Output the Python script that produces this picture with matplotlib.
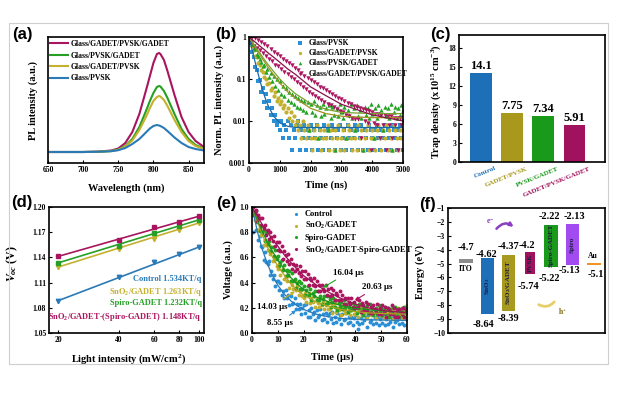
import matplotlib
matplotlib.use("Agg")
import matplotlib.pyplot as plt
import numpy as np
from matplotlib.patches import Rectangle, FancyArrowPatch
from matplotlib.ticker import NullLocator

# ---------------- data ----------------
# (a) steady-state PL
pl_wl = [650, 700, 720, 740, 750, 760, 770, 780, 790, 795, 800, 805, 808, 810, 815, 820, 830, 840, 850, 860, 872]
pl_gpg = [0, 0, 0.3, 1.5, 3.5, 9, 20, 38, 63, 76, 89, 98, 99, 98, 92, 81, 57, 35, 20, 11, 5]
pl_pg = [0, 0, 0.2, 1.0, 2.5, 6, 13, 25, 42, 51, 59, 65, 66, 65.5, 61, 54, 38, 23, 13, 7, 3.5]
pl_gp = [0, 0, 0.2, 0.9, 2.2, 5.5, 11.5, 22, 36, 44, 51, 55, 56, 55.5, 52, 46, 32, 20, 11, 6, 3]
pl_p = [0, 0, 0.2, 0.8, 1.8, 4, 8, 13, 20, 23.5, 26, 27, 26.5, 26, 24, 21, 14.5, 9, 5, 3, 1.5]

# (b) TRPL, sampled every 50 ns
trpl_t = np.arange(0, 5001, 50)
trpl_p = [1.0, 0.72, 0.45, 0.33, 0.19, 0.16, 0.09, 0.095, 0.05, 0.06,
          0.028, 0.045, 0.02, 0.03, 0.014, 0.02, 0.01, 0.014, 0.008, 0.01,
          0.006, 0.01, 0.004, 0.008, 0.006, 0.01, 0.004, 0.008, 0.002, 0.006,
          0.004, 0.008, 0.01, 0.002, 0.006, 0.004, 0.008, 0.002, 0.006, 0.004,
          0.008, 0.002, 0.006, 0.004, 0.008, 0.002, 0.006, 0.004, 0.002, 0.008,
          0.004, 0.006, 0.002, 0.004, 0.008, 0.006, 0.002, 0.004, 0.006, 0.008,
          0.002, 0.004, 0.006, 0.002, 0.008, 0.004, 0.006, 0.002, 0.004, 0.008,
          0.006, 0.002, 0.004, 0.008, 0.002, 0.006, 0.004, 0.002, 0.008, 0.006,
          0.004, 0.002, 0.006, 0.008, 0.004, 0.002, 0.006, 0.004, 0.008, 0.002,
          0.006, 0.004, 0.002, 0.008, 0.006, 0.004, 0.002, 0.006, 0.008, 0.004,
          0.002]
trpl_gp = [1.0, 0.8, 0.6, 0.5, 0.36, 0.33, 0.24, 0.22, 0.16, 0.15,
           0.11, 0.1, 0.075, 0.08, 0.055, 0.06, 0.04, 0.048, 0.03, 0.036,
           0.025, 0.03, 0.02, 0.024, 0.016, 0.02, 0.012, 0.016, 0.01, 0.013,
           0.008, 0.01, 0.006, 0.008, 0.004, 0.01, 0.006, 0.004, 0.008, 0.006,
           0.004, 0.002, 0.006, 0.004, 0.008, 0.004, 0.006, 0.002, 0.004, 0.006,
           0.004, 0.008, 0.002, 0.006, 0.004, 0.002, 0.006, 0.004, 0.008, 0.002,
           0.004, 0.006, 0.002, 0.004, 0.008, 0.006, 0.004, 0.002, 0.006, 0.004,
           0.002, 0.008, 0.004, 0.006, 0.002, 0.004, 0.006, 0.008, 0.002, 0.004,
           0.006, 0.004, 0.002, 0.006, 0.008, 0.004, 0.002, 0.006, 0.004, 0.008,
           0.002, 0.006, 0.004, 0.002, 0.008, 0.006, 0.004, 0.002, 0.006, 0.004,
           0.006]
trpl_pg = [1.0, 0.85, 0.7, 0.55, 0.52, 0.4, 0.36, 0.3, 0.26, 0.2,
           0.22, 0.15, 0.17, 0.11, 0.14, 0.09, 0.12, 0.07, 0.1, 0.055,
           0.09, 0.045, 0.07, 0.04, 0.06, 0.032, 0.05, 0.028, 0.045, 0.025,
           0.04, 0.022, 0.035, 0.02, 0.032, 0.018, 0.03, 0.016, 0.028, 0.006,
           0.026, 0.016, 0.03, 0.014, 0.024, 0.004, 0.022, 0.013, 0.026, 0.015,
           0.02, 0.006, 0.024, 0.012, 0.022, 0.014, 0.002, 0.02, 0.013, 0.025,
           0.016, 0.012, 0.022, 0.004, 0.018, 0.014, 0.026, 0.012, 0.02, 0.006,
           0.024, 0.013, 0.018, 0.012, 0.002, 0.022, 0.014, 0.02, 0.012, 0.025,
           0.015, 0.004, 0.02, 0.012, 0.024, 0.014, 0.018, 0.006, 0.022, 0.013,
           0.02, 0.012, 0.025, 0.002, 0.016, 0.022, 0.012, 0.02, 0.014, 0.024,
           0.018]
trpl_gpg = [1.0, 0.75, 1.0, 0.62, 0.95, 0.55, 0.85, 0.48, 0.75, 0.42,
            0.68, 0.36, 0.6, 0.3, 0.52, 0.27, 0.45, 0.22, 0.4, 0.2,
            0.35, 0.17, 0.3, 0.15, 0.27, 0.13, 0.24, 0.11, 0.21, 0.1,
            0.18, 0.085, 0.16, 0.075, 0.14, 0.065, 0.12, 0.057, 0.105, 0.05,
            0.095, 0.045, 0.085, 0.04, 0.075, 0.036, 0.066, 0.032, 0.06, 0.029,
            0.054, 0.026, 0.048, 0.024, 0.044, 0.021, 0.04, 0.019, 0.036, 0.017,
            0.033, 0.016, 0.03, 0.014, 0.027, 0.013, 0.025, 0.012, 0.023, 0.011,
            0.021, 0.011, 0.02, 0.004, 0.019, 0.01, 0.018, 0.009, 0.017, 0.002,
            0.016, 0.009, 0.015, 0.008, 0.015, 0.004, 0.014, 0.008, 0.014, 0.002,
            0.013, 0.008, 0.013, 0.004, 0.012, 0.008, 0.012, 0.002, 0.012, 0.008,
            0.01]
fit_t = [0, 100, 200, 300, 400, 500, 600, 800, 1000, 1250, 1500, 2000, 2500, 3000, 4000, 5000]
fit_p = [1.0, 0.5, 0.25, 0.13, 0.07, 0.04, 0.025, 0.013, 0.009, 0.0075, 0.007, 0.007, 0.007, 0.007, 0.007, 0.007]
fit_gp = [1.0, 0.75, 0.57, 0.43, 0.33, 0.26, 0.2, 0.125, 0.08, 0.05, 0.035, 0.02, 0.015, 0.013, 0.012, 0.012]
fit_pg = [1.0, 0.78, 0.6, 0.47, 0.37, 0.29, 0.23, 0.15, 0.1, 0.065, 0.045, 0.026, 0.019, 0.016, 0.015, 0.015]
fit_gpg = [1.0, 0.87, 0.76, 0.66, 0.57, 0.5, 0.43, 0.33, 0.25, 0.175, 0.13, 0.065, 0.04, 0.025, 0.014, 0.01]

# (c) trap density
trap_names = ["Control", "GADET/PVSK", "PVSK/GADET", "GADET/PVSK/GADET"]
trap_vals = [14.1, 7.75, 7.34, 5.91]

# (d) Voc vs light intensity
light = [20, 40, 60, 80, 100]
voc_ctrl = [1.088, 1.117, 1.135, 1.1437, 1.152]
voc_sno2 = [1.129, 1.150, 1.1617, 1.173, 1.1808]
voc_spiro = [1.1338, 1.1537, 1.1689, 1.177, 1.1848]
voc_both = [1.1418, 1.1605, 1.176, 1.182, 1.1888]
fit_light = [20, 100]
vfit_ctrl = [1.0885, 1.1523]
vfit_sno2 = [1.1285, 1.181]
vfit_spiro = [1.1335, 1.1847]
vfit_both = [1.1412, 1.189]
ideality = [1.534, 1.263, 1.232, 1.148]
voc_names = ["Control", "SnO$_2$/GADET", "Spiro-GADET", "SnO$_2$/GADET-(Spiro-GADET)"]

# (e) transient photovoltage, sampled every 0.5 us
tpv_t = np.arange(0, 60.01, 0.5)
tpv_ctrl = [0.97, 0.80, 0.95, 0.82, 0.82, 0.74, 0.77, 0.69, 0.68, 0.58,
            0.64, 0.56, 0.55, 0.57, 0.46, 0.49, 0.43, 0.46, 0.37, 0.41,
            0.41, 0.34, 0.40, 0.30, 0.33, 0.28, 0.34, 0.28, 0.30, 0.22,
            0.29, 0.23, 0.24, 0.28, 0.19, 0.23, 0.19, 0.23, 0.15, 0.20,
            0.22, 0.16, 0.23, 0.13, 0.18, 0.13, 0.20, 0.15, 0.17, 0.10,
            0.18, 0.13, 0.14, 0.19, 0.10, 0.15, 0.11, 0.16, 0.09, 0.14,
            0.16, 0.11, 0.17, 0.08, 0.13, 0.09, 0.16, 0.11, 0.14, 0.07,
            0.15, 0.10, 0.11, 0.16, 0.08, 0.13, 0.09, 0.13, 0.06, 0.12,
            0.14, 0.09, 0.03, 0.07, 0.12, 0.08, 0.15, 0.10, 0.13, 0.05,
            0.14, 0.09, 0.10, 0.15, 0.07, 0.12, 0.08, 0.13, 0.06, 0.11,
            0.13, 0.08, 0.15, 0.06, 0.11, 0.07, 0.14, 0.09, 0.12, 0.05,
            0.14, 0.09, 0.10, 0.15, 0.07, 0.12, 0.08, 0.13, 0.06, 0.11,
            0.13]
tpv_sno2 = [0.98, 1.0, 0.90, 0.92, 0.92, 0.82, 0.83, 0.78, 0.80, 0.70,
            0.74, 0.70, 0.66, 0.70, 0.63, 0.64, 0.57, 0.58, 0.60, 0.53,
            0.51, 0.55, 0.46, 0.50, 0.51, 0.43, 0.45, 0.41, 0.45, 0.36,
            0.41, 0.38, 0.35, 0.41, 0.34, 0.37, 0.30, 0.33, 0.34, 0.29,
            0.28, 0.32, 0.25, 0.30, 0.32, 0.24, 0.28, 0.25, 0.29, 0.21,
            0.27, 0.24, 0.21, 0.28, 0.22, 0.25, 0.19, 0.22, 0.25, 0.19,
            0.19, 0.24, 0.16, 0.22, 0.24, 0.17, 0.20, 0.18, 0.23, 0.14,
            0.21, 0.18, 0.16, 0.23, 0.17, 0.20, 0.14, 0.18, 0.20, 0.15,
            0.15, 0.20, 0.13, 0.18, 0.21, 0.14, 0.18, 0.15, 0.20, 0.12,
            0.18, 0.16, 0.14, 0.21, 0.15, 0.18, 0.12, 0.16, 0.19, 0.14,
            0.14, 0.19, 0.12, 0.17, 0.20, 0.13, 0.17, 0.14, 0.19, 0.11,
            0.17, 0.15, 0.13, 0.20, 0.14, 0.18, 0.12, 0.16, 0.18, 0.13,
            0.22]
tpv_spiro = [1.0, 0.94, 0.96, 0.97, 0.88, 0.91, 0.81, 0.85, 0.80, 0.82,
             0.73, 0.79, 0.71, 0.73, 0.65, 0.68, 0.68, 0.61, 0.66, 0.59,
             0.61, 0.53, 0.56, 0.58, 0.50, 0.54, 0.45, 0.50, 0.46, 0.49,
             0.41, 0.48, 0.41, 0.43, 0.36, 0.40, 0.41, 0.35, 0.40, 0.35,
             0.37, 0.30, 0.34, 0.37, 0.30, 0.35, 0.26, 0.32, 0.29, 0.33,
             0.26, 0.33, 0.26, 0.29, 0.23, 0.27, 0.29, 0.23, 0.29, 0.24,
             0.27, 0.21, 0.25, 0.28, 0.21, 0.26, 0.18, 0.24, 0.21, 0.25,
             0.19, 0.26, 0.20, 0.23, 0.17, 0.21, 0.23, 0.18, 0.24, 0.19,
             0.22, 0.16, 0.20, 0.23, 0.17, 0.22, 0.14, 0.20, 0.18, 0.22,
             0.16, 0.23, 0.17, 0.20, 0.14, 0.18, 0.20, 0.15, 0.22, 0.17,
             0.20, 0.14, 0.18, 0.21, 0.15, 0.20, 0.13, 0.19, 0.16, 0.21,
             0.14, 0.21, 0.15, 0.19, 0.13, 0.17, 0.20, 0.14, 0.21, 0.16,
             0.19]
tpv_both = [0.97, 1.0, 0.96, 0.98, 0.89, 0.94, 0.91, 0.86, 0.91, 0.83,
            0.86, 0.78, 0.82, 0.75, 0.80, 0.76, 0.73, 0.77, 0.69, 0.72,
            0.66, 0.72, 0.65, 0.69, 0.59, 0.65, 0.62, 0.57, 0.63, 0.55,
            0.59, 0.51, 0.55, 0.49, 0.54, 0.51, 0.48, 0.53, 0.45, 0.49,
            0.43, 0.49, 0.43, 0.47, 0.38, 0.44, 0.42, 0.38, 0.44, 0.37,
            0.41, 0.33, 0.38, 0.33, 0.38, 0.35, 0.33, 0.38, 0.30, 0.35,
            0.29, 0.36, 0.30, 0.34, 0.26, 0.32, 0.30, 0.26, 0.33, 0.26,
            0.30, 0.23, 0.28, 0.22, 0.28, 0.25, 0.23, 0.28, 0.21, 0.25,
            0.20, 0.27, 0.21, 0.26, 0.17, 0.24, 0.22, 0.18, 0.25, 0.18,
            0.23, 0.16, 0.21, 0.16, 0.22, 0.19, 0.17, 0.23, 0.15, 0.20,
            0.15, 0.22, 0.17, 0.21, 0.13, 0.20, 0.18, 0.15, 0.22, 0.15,
            0.20, 0.13, 0.18, 0.13, 0.19, 0.17, 0.15, 0.20, 0.13, 0.18,
            0.16]
tfit_t = [0, 2, 4, 6, 8, 10, 12.5, 15, 17.5, 20, 25, 30, 35, 40, 45, 50, 55, 60]
tfit_ctrl = [1.0, 0.812, 0.663, 0.546, 0.453, 0.379, 0.309, 0.256, 0.216, 0.187, 0.148, 0.127, 0.115, 0.108, 0.105, 0.103, 0.101, 0.1]
tfit_sno2 = [1.0, 0.89, 0.78, 0.68, 0.6, 0.53, 0.46, 0.39, 0.34, 0.30, 0.245, 0.21, 0.185, 0.17, 0.16, 0.155, 0.152, 0.15]
tfit_spiro = [1.0, 0.9, 0.805, 0.72, 0.645, 0.58, 0.505, 0.44, 0.39, 0.345, 0.285, 0.245, 0.215, 0.195, 0.185, 0.175, 0.17, 0.165]
tfit_both = [1.0, 0.93, 0.86, 0.8, 0.74, 0.69, 0.62, 0.56, 0.505, 0.455, 0.38, 0.32, 0.27, 0.23, 0.2, 0.18, 0.17, 0.16]
tau = [8.55, 14.03, 16.04, 20.63]
tpv_names = ["Control", "SnO$_2$/GADET", "Spiro-GADET", "SnO$_2$/GADET-Spiro-GADET"]

# (f) energy levels (eV)
ito_wf = -4.7
au_wf = -5.1
layer_names = ["SnO$_2$", "SnO$_2$/GADET", "PVSK", "Spiro-GADET", "Spiro"]
layer_cb = [-4.62, -4.37, -4.2, -2.22, -2.13]
layer_vb = [-8.64, -8.39, -5.74, -5.22, -5.13]

# ---------------- style ----------------
plt.rcParams.update({
    "font.family": "Liberation Serif",
    "font.weight": "bold",
    "axes.labelweight": "bold",
    "mathtext.fontset": "custom",
    "mathtext.rm": "Liberation Serif:bold",
    "mathtext.it": "Liberation Serif:bold:italic",
    "mathtext.bf": "Liberation Serif:bold",
    "axes.linewidth": 1.2,
    "xtick.direction": "in",
    "ytick.direction": "in",
    "xtick.major.size": 2,
    "ytick.major.size": 2,
    "xtick.major.width": 0.8,
    "ytick.major.width": 0.8,
    "xtick.labelsize": 5.5,
    "ytick.labelsize": 5.5,
    "xtick.major.pad": 2,
    "ytick.major.pad": 2,
    "axes.labelsize": 7.5,
})

BLUE, OLIVE, GREEN, MAG = "#2b8fd6", "#c2b030", "#22a322", "#ad1560"
L_BLUE, L_OLIVE, L_GREEN, L_MAG = "#2a7ab8", "#c4b12e", "#25a025", "#a8155e"
B_BLUE, B_OLIVE, B_GREEN, B_MAG = "#1d6fb8", "#a8991c", "#1a9a1a", "#a0125d"

W, H = 618, 394
fig = plt.figure(figsize=(W / 100, H / 100), dpi=100)


def box(l, t, r, b):
    return [l / W, 1 - b / H, (r - l) / W, (b - t) / H]


def panel(x, y, s):
    fig.text(x / W, 1 - y / H, s, family="Liberation Sans", weight="bold",
             fontsize=12, ha="center", va="center")


fig.add_artist(Rectangle((9 / W, 1 - 364 / H), 599 / W, 341 / H, transform=fig.transFigure,
                         fill=False, edgecolor="#cfcfcf", lw=0.8))

# ---------------- (a) ----------------
axA = fig.add_axes(box(48, 37, 204, 163))
axA.plot(pl_wl, pl_gpg, color=L_MAG, lw=1.5, label="Glass/GADET/PVSK/GADET")
axA.plot(pl_wl, pl_pg, color=L_GREEN, lw=1.5, label="Glass/PVSK/GADET")
axA.plot(pl_wl, pl_gp, color=L_OLIVE, lw=1.5, label="Glass/GADET/PVSK")
axA.plot(pl_wl, pl_p, color=L_BLUE, lw=1.5, label="Glass/PVSK")
axA.set_xlim(650, 872)
axA.set_ylim(-11, 115)
axA.set_xticks([650, 700, 750, 800, 850])
axA.set_yticks([])
axA.set_xlabel("Wavelength (nm)")
axA.set_ylabel("PL intensity (a.u.)")
axA.xaxis.set_label_coords(0.5, -0.16)
axA.yaxis.set_label_coords(-0.064, 0.5)
axA.legend(loc="upper left", bbox_to_anchor=(0.01, 0.975), frameon=False, fontsize=5.5,
           handlelength=2.4, handletextpad=0.35, labelspacing=0.45, borderpad=0, borderaxespad=0)
panel(22, 35, "(a)")

# ---------------- (b) ----------------
axB = fig.add_axes(box(249, 37, 403, 163))
axB.scatter(trpl_t, trpl_p, s=9, marker="s", color=BLUE, lw=0, label="Glass/PVSK")
axB.scatter(trpl_t, trpl_gp, s=9, marker="o", color=OLIVE, lw=0, label="Glass/GADET/PVSK")
axB.scatter(trpl_t, trpl_pg, s=10, marker="^", color=GREEN, lw=0, label="Glass/PVSK/GADET")
axB.scatter(trpl_t, trpl_gpg, s=10, marker="v", color=MAG, lw=0, label="Glass/GADET/PVSK/GADET")
axB.plot(fit_t, fit_p, color="#1a6aa8", lw=0.9)
axB.plot(fit_t, fit_gp, color="#a09020", lw=0.9)
axB.plot(fit_t, fit_pg, color="#7aa030", lw=0.9)
axB.plot(fit_t, fit_gpg, color="#8a1050", lw=0.9)
axB.set_yscale("log")
axB.set_ylim(0.001, 1)
axB.set_xlim(0, 5000)
axB.set_yticks([0.001, 0.01, 0.1, 1])
axB.set_yticklabels(["0.001", "0.01", "0.1", "1"])
axB.yaxis.set_minor_locator(NullLocator())
axB.set_xticks([0, 1000, 2000, 3000, 4000, 5000])
axB.set_xlabel("Time (ns)")
axB.set_ylabel("Norm. PL intensity (a.u.)")
axB.xaxis.set_label_coords(0.5, -0.135)
axB.yaxis.set_label_coords(-0.162, 0.5)
axB.legend(loc="upper left", bbox_to_anchor=(0.3, 0.985), frameon=False, fontsize=5.5,
           handlelength=1.2, handletextpad=0.6, labelspacing=0.3, borderpad=0, borderaxespad=0,
           scatterpoints=1, markerscale=0.8)
panel(226, 35, "(b)")

# ---------------- (c) ----------------
axC = fig.add_axes(box(459, 35, 605, 162))
bar_cols = [B_BLUE, B_OLIVE, B_GREEN, B_MAG]
axC.bar(range(len(trap_vals)), trap_vals, width=0.7, color=bar_cols)
for i, v in enumerate(trap_vals):
    axC.text(i, v + 0.15, str(v), ha="center", va="bottom", fontsize=9)
axC.set_xlim(-0.71, 3.98)
axC.set_ylim(0, 20.1)
axC.set_yticks([0, 3, 6, 9, 12, 15, 18])
axC.set_xticks([])
for i, (n, c) in enumerate(zip(trap_names, bar_cols)):
    axC.text(i + 0.45, -0.03, n, transform=axC.get_xaxis_transform(), rotation=22,
             rotation_mode="anchor", ha="right", va="top", fontsize=5, color=c)
axC.set_ylabel("Trap density (x10$^{15}$ cm$^{-3}$)")
axC.yaxis.set_label_coords(-0.11, 0.48)
panel(440, 35, "(c)")

# ---------------- (d) ----------------
axD = fig.add_axes(box(49, 207, 204, 333))
d_sets = [(voc_ctrl, vfit_ctrl, L_BLUE, "v"), (voc_sno2, vfit_sno2, L_OLIVE, "v"),
          (voc_spiro, vfit_spiro, L_GREEN, "s"), (voc_both, vfit_both, L_MAG, "s")]
for pts, fit, col, mk in d_sets:
    axD.plot(fit_light, fit, color=col, lw=1.2)
    axD.plot(light, pts, ls="none", marker=mk, ms=3.2, color=col)
axD.set_xscale("log")
axD.set_xlim(18, 106)
axD.set_ylim(1.05, 1.20)
axD.set_xticks(light)
axD.set_xticklabels([str(v) for v in light])
axD.xaxis.set_minor_locator(NullLocator())
axD.set_yticks([1.05, 1.08, 1.11, 1.14, 1.17, 1.20])
axD.set_yticklabels(["1.05", "1.08", "1.11", "1.14", "1.17", "1.20"])
axD.set_xlabel("Light intensity (mW/cm$^2$)")
axD.set_ylabel("$V_{oc}$ (V)", fontsize=8.5)
axD.xaxis.set_label_coords(0.51, -0.15)
axD.yaxis.set_label_coords(-0.19, 0.55)
d_text_y = [0.43, 0.325, 0.238, 0.127]
for (pts, fit, col, mk), name, n, ty in zip(d_sets, voc_names, ideality, d_text_y):
    axD.text(0.985, ty, f"{name} {n:.3f}KT/q", transform=axD.transAxes, ha="right",
             va="center", fontsize=6, color=col)
panel(22, 202, "(d)")

# ---------------- (e) ----------------
axE = fig.add_axes(box(252, 207, 407, 333))
e_sets = [(tpv_ctrl, tfit_ctrl, BLUE, "#2a7ab8"), (tpv_sno2, tfit_sno2, OLIVE, "#b0a020"),
          (tpv_spiro, tfit_spiro, GREEN, "#1e8e1e"), (tpv_both, tfit_both, MAG, "#9a1355")]
for (pts, fit, col, fcol), name in zip(e_sets, tpv_names):
    axE.scatter(tpv_t, pts, s=8, color=col, lw=0, label=name)
for pts, fit, col, fcol in e_sets:
    axE.plot(tfit_t, fit, color=fcol, lw=0.9)
axE.set_xlim(0, 60)
axE.set_ylim(0, 1.0)
axE.set_xticks([0, 10, 20, 30, 40, 50, 60])
axE.set_yticks([0, 0.2, 0.4, 0.6, 0.8, 1.0])
axE.set_yticklabels(["0.0", "0.2", "0.4", "0.6", "0.8", "1.0"])
axE.set_xlabel("Time (μs)")
axE.set_ylabel("Voltage (a.u.)")
axE.xaxis.set_label_coords(0.52, -0.15)
axE.yaxis.set_label_coords(-0.123, 0.5)
axE.legend(loc="upper left", bbox_to_anchor=(0.26, 0.975), frameon=False, fontsize=6,
           handlelength=1.0, handletextpad=0.5, labelspacing=0.25, borderpad=0, borderaxespad=0,
           scatterpoints=1, markerscale=0.8)
# tau annotations: (text position, arrow head)
tau_text_xy = [(10.8, 0.08), (7.7, 0.21), (37.2, 0.48), (48.4, 0.365)]
tau_head_xy = [(17.0, 0.18), (16.6, 0.33), (27.5, 0.36), (39.9, 0.26)]
for v, txy, hxy, (pts, fit, col, fcol) in zip(tau, tau_text_xy, tau_head_xy, e_sets):
    axE.annotate(f"{v:.2f} μs", xy=hxy, xytext=txy, ha="center", va="center", fontsize=6.3,
                 arrowprops=dict(arrowstyle="-|>", color=col, lw=0.8, mutation_scale=5,
                                 shrinkA=1, shrinkB=0))
panel(226, 203, "(e)")

# ---------------- (f) ----------------
axF = fig.add_axes(box(448, 208, 605, 333))
layer_cols = [B_BLUE, "#a89a1e", "#a0125d", "#1a9a1a", "#a24bf0"]
layer_x = [1, 2, 3, 4, 5]
layer_w = [0.62, 0.62, 0.47, 0.66, 0.62]
axF.bar(layer_x, np.subtract(layer_cb, layer_vb), bottom=layer_vb, width=layer_w,
        color=layer_cols)
axF.bar([0], [0.25], bottom=[ito_wf - 0.25], width=0.65, color="#8c8c8c")
axF.bar([6], [0.15], bottom=[au_wf], width=0.65, color="#f39322")
for x, name, cb, vb in zip(layer_x, layer_names, layer_cb, layer_vb):
    axF.text(x, (cb + vb) / 2, name, rotation=90, ha="center", va="center",
             fontsize=5, color="#1c1c3c")
axF.text(0, -3.86, f"{ito_wf}", ha="center", va="center", fontsize=7.5)
axF.text(0, -5.37, "ITO", ha="center", va="center", fontsize=5.5)
axF.text(6.1, -5.8, f"{au_wf}", ha="center", va="center", fontsize=7.5)
axF.text(5.95, -4.48, "Au", ha="center", va="center", fontsize=5.5)
cb_pos = [(0.94, -4.36), (2.0, -3.76), (2.86, -3.71), (3.9, -1.6), (5.1, -1.6)]
vb_pos = [(0.84, -9.39), (2.0, -8.99), (2.95, -6.64), (3.9, -6.09), (4.83, -5.51)]
for cb, vb, pc, pv in zip(layer_cb, layer_vb, cb_pos, vb_pos):
    axF.text(pc[0], pc[1], f"{cb}", ha="center", va="center", fontsize=7.5)
    axF.text(pv[0], pv[1], f"{vb}", ha="center", va="center", fontsize=7.5)
axF.add_patch(FancyArrowPatch((1.35, -2.65), (2.34, -2.49), connectionstyle="arc3,rad=-0.55",
                              arrowstyle="-|>", mutation_scale=5, color="#8b3fc0", lw=1.8))
axF.text(1.17, -2.0, "e$^{-}$", color="#8b3fc0", fontsize=6, ha="center", va="center")
axF.add_patch(FancyArrowPatch((3.3, -7.85), (4.22, -7.6), connectionstyle="arc3,rad=0.5",
                              arrowstyle="-", color="#e6cf6a", lw=2.0))
axF.text(4.55, -8.46, "h$^{+}$", color="#7a6a10", fontsize=5.5, ha="center", va="center")
axF.set_xlim(-0.84, 6.52)
axF.set_ylim(-10, -1)
axF.set_xticks([])
axF.set_yticks(range(-10, 0))
axF.set_ylabel("Energy (eV)")
axF.yaxis.set_label_coords(-0.146, 0.49)
panel(428, 204, "(f)")

fig.savefig("out.png", dpi=100)
